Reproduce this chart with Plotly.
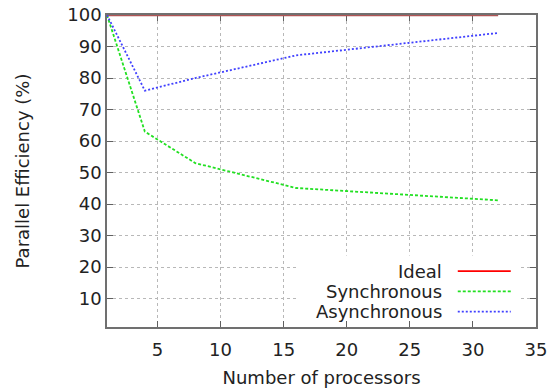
import plotly.graph_objects as go

# Data
procs_ideal = [1, 32]
eff_ideal = [100, 100]
procs = [1, 4, 8, 16, 32]
eff_sync = [100, 63, 53, 45.1, 41.2]
eff_async = [100, 76, 80, 87.2, 94.3]
series_names = ["Ideal", "Synchronous", "Asynchronous"]
legend_colors = ["#ff0000", "#22e022", "#4040ff"]
line_colors = ["#b05555", "#22e022", "#4040ff"]
series_dash = ["solid", "3px,2px", "2px,2px"]
x_ticks = [5, 10, 15, 20, 25, 30, 35]
y_ticks = [10, 20, 30, 40, 50, 60, 70, 80, 90, 100]

FONT = "DejaVu Sans"
TXT = "#222222"

fig = go.Figure()
xs = [procs_ideal, procs, procs]
ys = [eff_ideal, eff_sync, eff_async]
widths = [2.5, 1.8, 1.8]
for name, x, y, c, d, w in zip(series_names, xs, ys, line_colors, series_dash, widths):
    fig.add_trace(go.Scatter(x=x, y=y, mode="lines", name=name, showlegend=False,
                             line=dict(color=c, dash=d, width=w), hoverinfo="skip", cliponaxis=False))

# Opaque key box (gnuplot style) drawn over the grid
fig.add_shape(type="rect", xref="x", yref="y", x0=16.1, x1=33.8, y0=1, y1=23.7,
              fillcolor="white", line=dict(width=0), layer="between")

# Custom legend: text right-aligned, line sample on the right
legend_y = [18.7, 12.3, 5.9]
for name, c, d, ly in zip(series_names, legend_colors, series_dash, legend_y):
    fig.add_annotation(x=27.74, y=ly, xref="x", yref="y", text=name, showarrow=False,
                       xanchor="right", yanchor="middle",
                       font=dict(family=FONT, size=18, color=TXT))
    fig.add_shape(type="line", xref="x", yref="y", x0=28.8, x1=33.0, y0=ly, y1=ly,
                  line=dict(color=c, dash=d, width=1.8), layer="above")

axis_common = dict(
    showline=True, linecolor="#707070", linewidth=1.5, mirror="allticks",
    ticks="inside", ticklen=6, tickcolor="#606060", tickwidth=1,
    showgrid=True, gridcolor="#b8b8b8", griddash="dot", gridwidth=1,
    zeroline=False, layer="below traces",
    tickfont=dict(family=FONT, size=18, color=TXT),
)

fig.update_xaxes(range=[1, 35], tickvals=x_ticks, ticktext=[str(v) for v in x_ticks],
                 title=dict(text="Number of processors", font=dict(family=FONT, size=18, color=TXT),
                            standoff=12),
                 ticklabelstandoff=6, **axis_common)
fig.update_yaxes(range=[1, 100], tickvals=y_ticks, ticktext=[str(v) for v in y_ticks],
                 title=dict(text="Parallel Efficiency (%)", font=dict(family=FONT, size=18, color=TXT),
                            standoff=33),
                 **axis_common)

fig.update_layout(
    width=551, height=391,
    margin=dict(l=107, r=15, t=15, b=64, autoexpand=False),
    paper_bgcolor="white", plot_bgcolor="white",
    font=dict(family=FONT, size=18, color=TXT),
)

fig.write_html("out.html", config={"displayModeBar": False},
               post_script="document.body.style.margin='0';")
